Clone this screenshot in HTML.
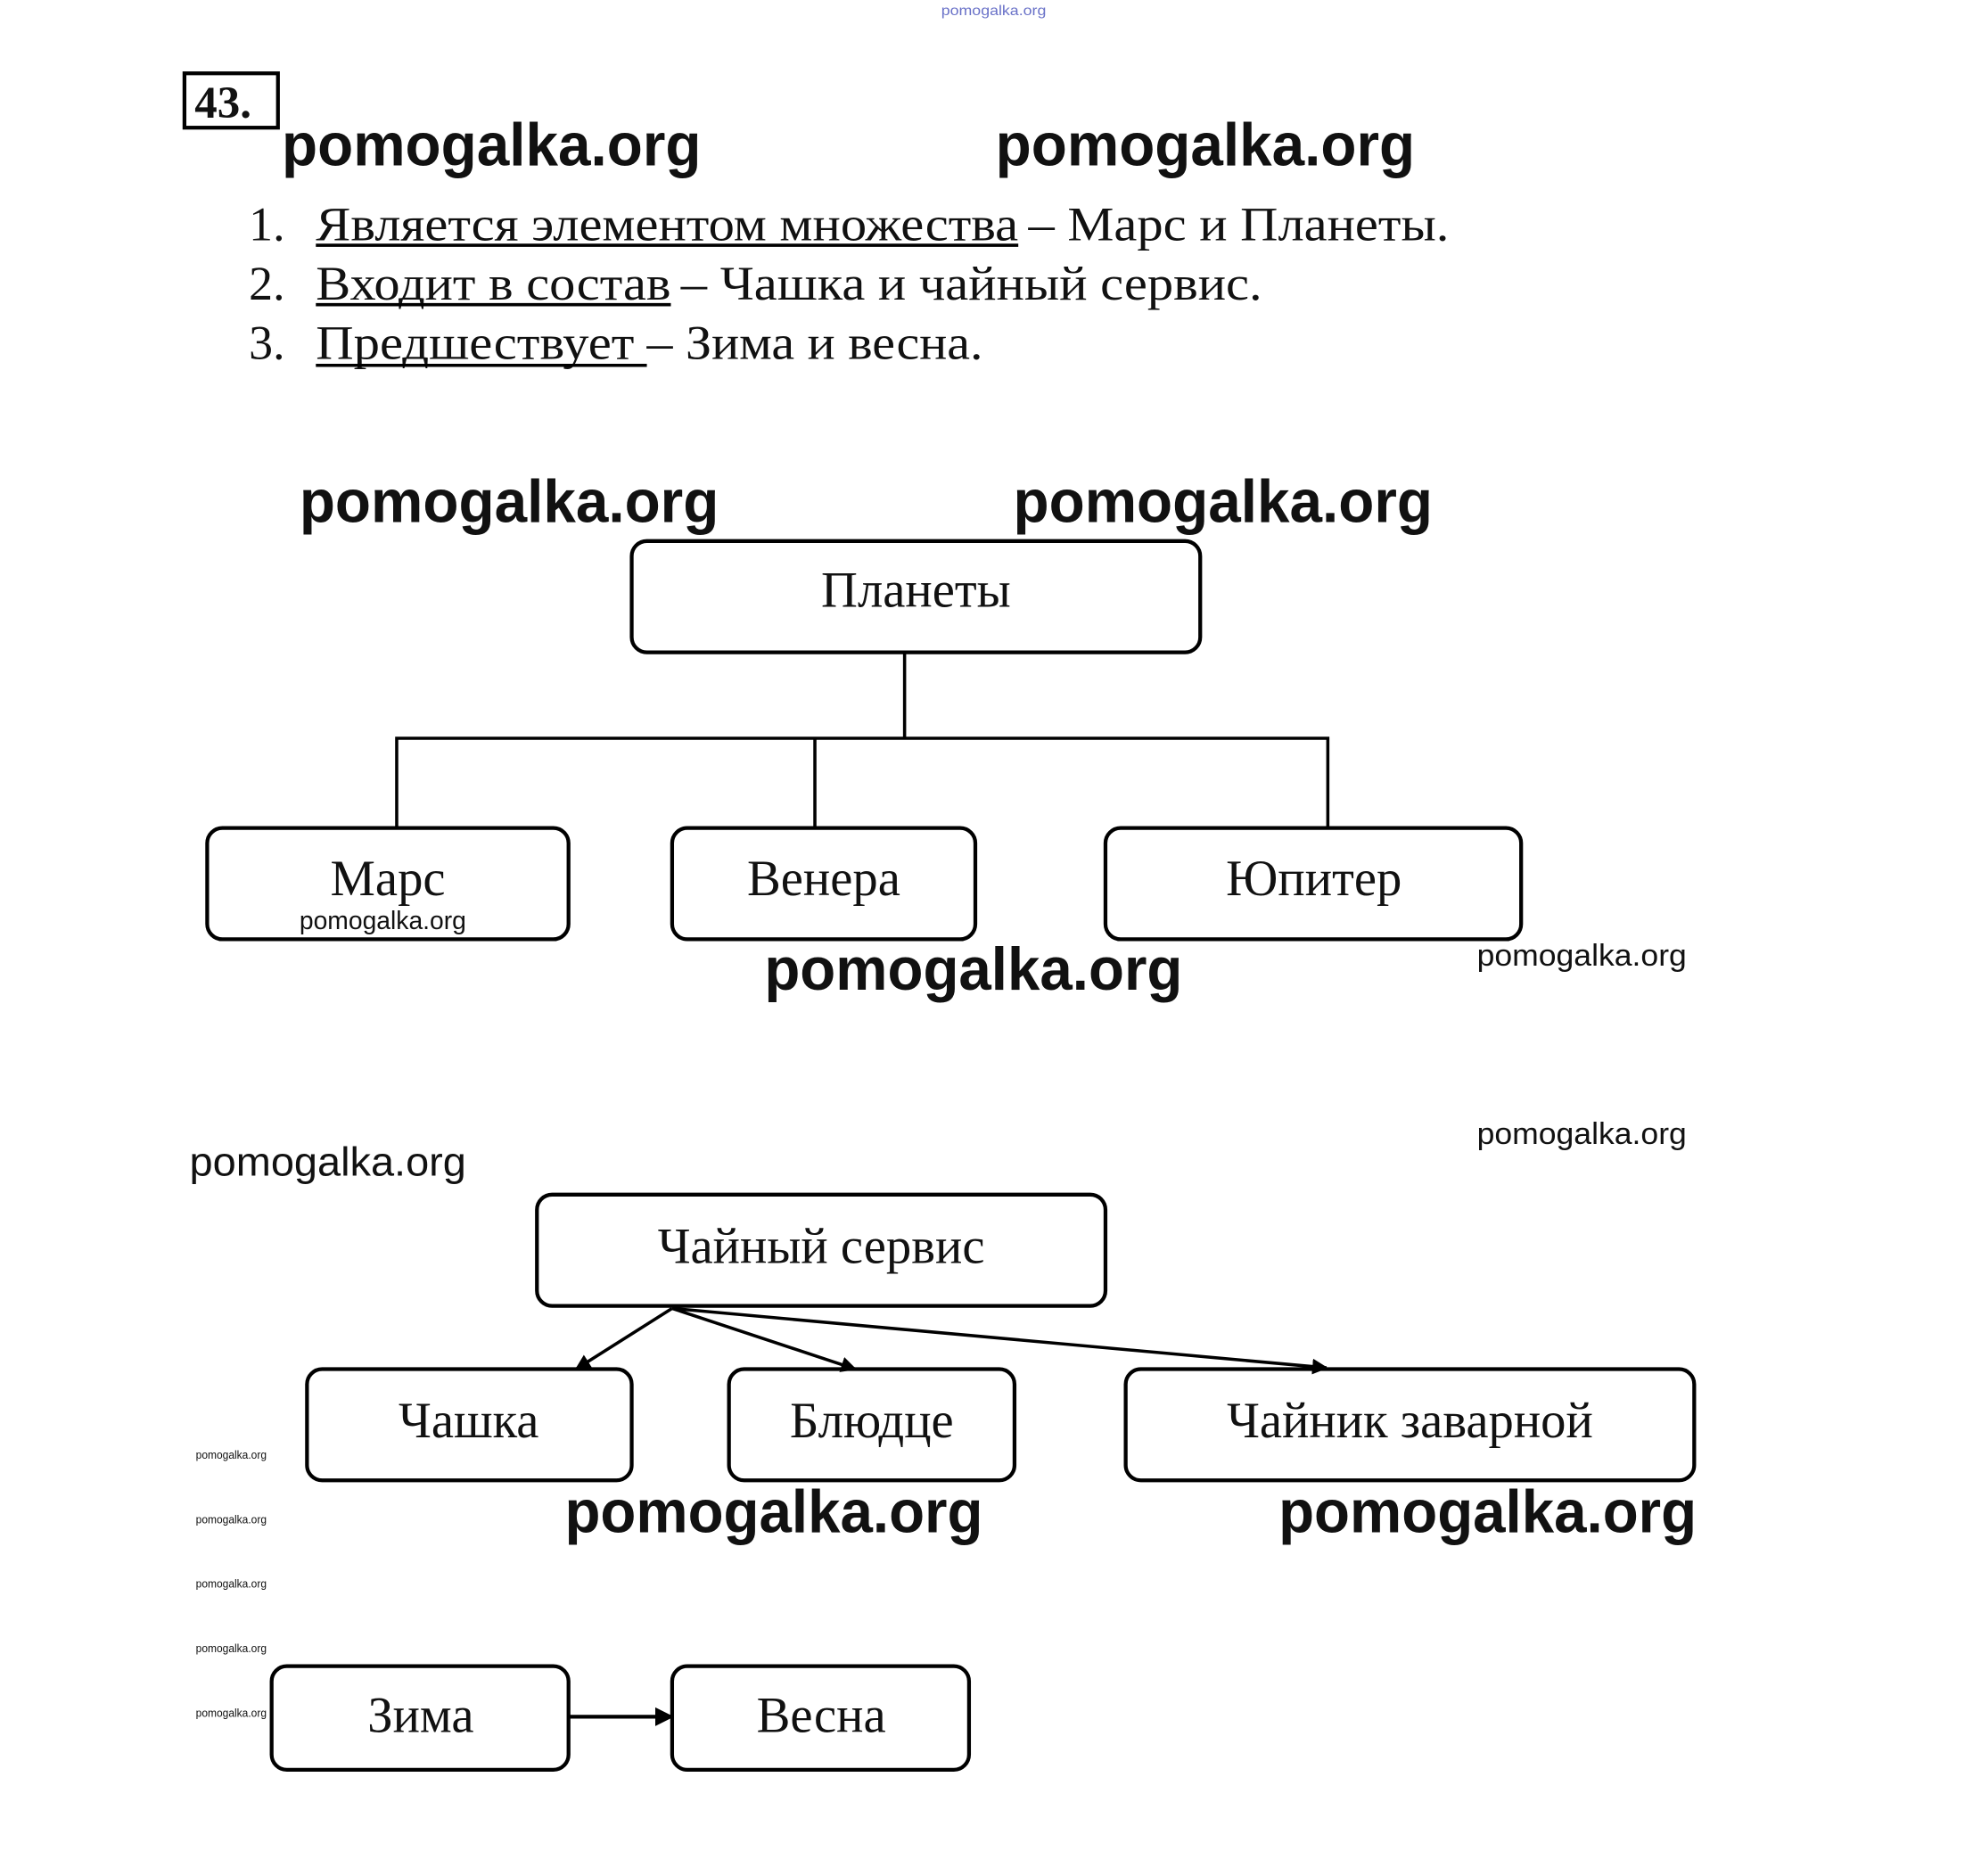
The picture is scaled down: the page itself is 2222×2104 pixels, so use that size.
<!DOCTYPE html>
<html><head><meta charset="utf-8"><style>html,body{margin:0;padding:0;background:#fff}svg{display:block}</style></head>
<body>
<svg width="2222" height="2104" viewBox="0 0 1568 1484" preserveAspectRatio="none" xmlns="http://www.w3.org/2000/svg">
<defs><marker id="a" viewBox="0 0 10 10" refX="9" refY="5" markerWidth="5" markerHeight="5" orient="auto"><path d="M0,0L10,5L0,10z" fill="#000"/></marker></defs>
<rect width="1568" height="1484" fill="#fff"/>
<g font-family="Liberation Sans, sans-serif" font-weight="bold" fill="#111" lengthAdjust="spacingAndGlyphs">
<text x="745" y="12" font-size="11" font-weight="normal" fill="#6a72c8" textLength="83" lengthAdjust="spacingAndGlyphs">pomogalka.org</text>
<text x="223" y="131" font-size="48" textLength="332" lengthAdjust="spacingAndGlyphs">pomogalka.org</text>
<text x="788" y="131" font-size="48" textLength="332" lengthAdjust="spacingAndGlyphs">pomogalka.org</text>
<text x="237" y="413" font-size="48" textLength="332" lengthAdjust="spacingAndGlyphs">pomogalka.org</text>
<text x="802" y="413" font-size="48" textLength="332" lengthAdjust="spacingAndGlyphs">pomogalka.org</text>
<text x="605" y="783" font-size="48" textLength="331" lengthAdjust="spacingAndGlyphs">pomogalka.org</text>
<text x="447" y="1212" font-size="48" textLength="331" lengthAdjust="spacingAndGlyphs">pomogalka.org</text>
<text x="1012" y="1212" font-size="48" textLength="331" lengthAdjust="spacingAndGlyphs">pomogalka.org</text>
<text x="237" y="735" font-size="20" font-weight="normal" textLength="132" lengthAdjust="spacingAndGlyphs">pomogalka.org</text>
<text x="1169" y="764" font-size="24" font-weight="normal" textLength="166" lengthAdjust="spacingAndGlyphs">pomogalka.org</text>
<text x="1169" y="905" font-size="24" font-weight="normal" textLength="166" lengthAdjust="spacingAndGlyphs">pomogalka.org</text>
<text x="150" y="930" font-size="32" font-weight="normal" textLength="219" lengthAdjust="spacingAndGlyphs">pomogalka.org</text>
<g font-size="9" font-weight="normal"><text x="155" y="1154" textLength="56" lengthAdjust="spacingAndGlyphs">pomogalka.org</text><text x="155" y="1205" textLength="56" lengthAdjust="spacingAndGlyphs">pomogalka.org</text><text x="155" y="1256" textLength="56" lengthAdjust="spacingAndGlyphs">pomogalka.org</text><text x="155" y="1307" textLength="56" lengthAdjust="spacingAndGlyphs">pomogalka.org</text><text x="155" y="1358" textLength="56" lengthAdjust="spacingAndGlyphs">pomogalka.org</text></g>
</g>
<rect x="146" y="58" width="74" height="43" fill="none" stroke="#000" stroke-width="3"/>
<g font-family="Liberation Serif, serif" fill="#111">
<text x="154" y="93" font-size="36" font-weight="bold">43.</text>
<g font-size="38">
<text x="197" y="190">1.</text><text x="197" y="237">2.</text><text x="197" y="284">3.</text>
<text x="250" y="190" textLength="556" lengthAdjust="spacingAndGlyphs">Является элементом множества</text>
<text x="814" y="190" textLength="333" lengthAdjust="spacingAndGlyphs">– Марс и Планеты.</text>
<text x="250" y="237" textLength="281" lengthAdjust="spacingAndGlyphs">Входит в состав</text>
<text x="539" y="237" textLength="460" lengthAdjust="spacingAndGlyphs">– Чашка и чайный сервис.</text>
<text x="250" y="284" textLength="252" lengthAdjust="spacingAndGlyphs">Предшествует</text>
<text x="512" y="284" textLength="266" lengthAdjust="spacingAndGlyphs">– Зима и весна.</text>
</g>
</g>
<g stroke="#000" stroke-width="2.5">
<line x1="250" y1="194" x2="806" y2="194"/><line x1="250" y1="241" x2="531" y2="241"/><line x1="250" y1="289" x2="512" y2="289"/>
</g>
<g fill="none" stroke="#000" stroke-width="3">
<rect x="500" y="428" width="450" height="88" rx="12"/>
<rect x="164" y="655" width="286" height="88" rx="12"/>
<rect x="532" y="655" width="240" height="88" rx="12"/>
<rect x="875" y="655" width="329" height="88" rx="12"/>
<rect x="425" y="945" width="450" height="88" rx="12"/>
<rect x="243" y="1083" width="257" height="88" rx="12"/>
<rect x="577" y="1083" width="226" height="88" rx="12"/>
<rect x="891" y="1083" width="450" height="88" rx="12"/>
<rect x="215" y="1318" width="235" height="82" rx="12"/>
<rect x="532" y="1318" width="235" height="82" rx="12"/>
</g>
<g stroke="#000" stroke-width="2.5" fill="none">
<path d="M716 516V584M314 655V584H1051V655M645 584V655"/>
<line x1="532" y1="1035" x2="456" y2="1083" marker-end="url(#a)"/>
<line x1="532" y1="1035" x2="677" y2="1083" marker-end="url(#a)"/>
<line x1="532" y1="1035" x2="1050" y2="1082" marker-end="url(#a)"/>
<line x1="450" y1="1358" x2="532" y2="1358" stroke-width="3" marker-end="url(#a)"/>
</g>
<g font-family="Liberation Serif, serif" font-size="40" fill="#111" text-anchor="middle">
<text x="725" y="480">Планеты</text>
<text x="307" y="708">Марс</text>
<text x="652" y="708">Венера</text>
<text x="1040" y="708">Юпитер</text>
<text x="650" y="999">Чайный сервис</text>
<text x="371" y="1137">Чашка</text>
<text x="690" y="1137">Блюдце</text>
<text x="1116" y="1137">Чайник заварной</text>
<text x="333" y="1370">Зима</text>
<text x="650" y="1370">Весна</text>
</g>
</svg>
</body></html>
